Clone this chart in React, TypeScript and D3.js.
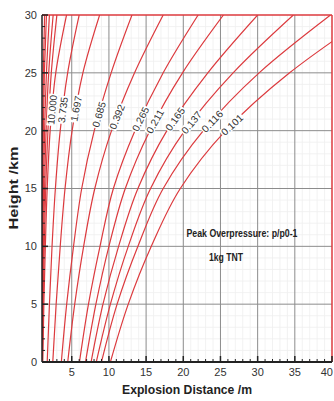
import React from 'react';
import * as d3 from 'd3';

const heights = [0, 5, 10, 15, 20, 25, 30];

// labelled contour levels, left to right
const levelLabels = ['10.000', '3.735', '1.697', '0.685', '0.392', '0.265', '0.211', '0.165', '0.137', '0.116', '0.101'];

// explosion distance (m) of each labelled contour at the heights above
const dist10000 = [1.1, 1.25, 1.45, 1.7, 2.1, 2.85, 4.3];
const dist3735 = [1.7, 2.0, 2.35, 2.8, 3.45, 4.45, 6.0];
const dist1697 = [2.45, 2.9, 3.45, 4.1, 5.05, 6.5, 8.75];
const dist0685 = [3.6, 4.32, 5.24, 6.34, 8.03, 10.3, 13.1];
const dist0392 = [4.46, 5.4, 6.6, 8.1, 10.35, 13.45, 17.3];
const dist0265 = [6.04, 7.25, 8.8, 10.6, 13.5, 17.3, 22.0];
const dist0211 = [6.85, 8.25, 10.0, 12.2, 15.5, 19.9, 25.4];
const dist0165 = [7.6, 9.2, 11.3, 13.9, 17.8, 23.3, 30.0];
const dist0137 = [8.3, 10.2, 12.6, 15.6, 20.2, 26.7, 34.8];
const dist0116 = [9.0, 11.1, 13.9, 17.3, 22.7, 30.2, 39.8];
const dist0101 = [10.2, 12.6, 15.7, 19.6, 25.7, 34.3, 45.2];

// unlabelled high-pressure contours hugging the left axis
const bandA = [1.06, 1.15, 1.3, 1.5, 1.8, 2.25, 3.0];
const bandB = [1.04, 1.1, 1.2, 1.35, 1.55, 1.9, 2.5];
const bandC = [1.02, 1.06, 1.12, 1.2, 1.35, 1.6, 2.0];
const bandD = [1.01, 1.03, 1.06, 1.1, 1.18, 1.32, 1.6];
const bandE = [1.0, 1.01, 1.03, 1.05, 1.09, 1.18, 1.35];

// height (km) where each label sits on its contour
const labelHeights = [21.8, 21.8, 21.9, 21.4, 21.2, 21.0, 20.8, 21.0, 20.7, 20.8, 20.5];

const xTicks = [5, 10, 15, 20, 25, 30, 35, 40];
const yTicks = [0, 5, 10, 15, 20, 25, 30];

const labelled = [dist10000, dist3735, dist1697, dist0685, dist0392, dist0265, dist0211, dist0165, dist0137, dist0116, dist0101];
const band = [bandA, bandB, bandC, bandD, bandE];

const W = 334;
const H = 401;
const RED = '#dc3a3e';

export default function App() {
  const x = d3.scaleLinear().domain([1, 40]).range([42, 332]);
  const y = d3.scaleLinear().domain([0, 30]).range([362, 15]);

  const line = d3.line<number[]>()
    .x(d => x(d[0]))
    .y(d => y(d[1]))
    .curve(d3.curveMonotoneY);

  const toPts = (dist: number[]) => dist.map((v, i) => [v, heights[i]]);

  const minorX = d3.range(2, 40, 1).filter(v => v % 5 !== 0);
  const minorY = d3.range(1, 30, 1).filter(v => v % 5 !== 0);
  const majorX = [5, 10, 15, 20, 25, 30, 35];
  const majorY = [5, 10, 15, 20, 25];

  const labels = labelled.map((dist, i) => {
    const at = d3.scaleLinear().domain(heights).range(dist);
    const h = labelHeights[i];
    const px = x(at(h));
    const py = y(h);
    const ang = Math.atan2(y(h + 0.6) - y(h - 0.6), x(at(h + 0.6)) - x(at(h - 0.6))) * 180 / Math.PI;
    return { px, py, ang, text: levelLabels[i] };
  });

  return (
    <svg width={W} height={H} style={{ position: 'absolute', left: 0, top: 0, background: '#fff' }}
      fontFamily="'Liberation Sans', Arial, sans-serif">
      <defs>
        <clipPath id="plot">
          <rect x={x(1)} y={y(30)} width={x(40) - x(1)} height={y(0) - y(30)} />
        </clipPath>
      </defs>

      {/* minor grid */}
      <g stroke="#efefef" strokeWidth={0.8}>
        {minorX.map(v => <line key={'mx' + v} x1={x(v)} x2={x(v)} y1={y(0)} y2={y(30)} />)}
        {minorY.map(v => <line key={'my' + v} x1={x(1)} x2={x(40)} y1={y(v)} y2={y(v)} />)}
      </g>
      {/* major grid */}
      <g stroke="#8c8c8c" strokeWidth={1}>
        {majorX.map(v => <line key={'gx' + v} x1={x(v)} x2={x(v)} y1={y(0)} y2={y(30)} />)}
        {majorY.map(v => <line key={'gy' + v} x1={x(1)} x2={x(40)} y1={y(v)} y2={y(v)} />)}
      </g>

      {/* contours */}
      <g clipPath="url(#plot)" fill="none" stroke={RED} strokeWidth={1.2}>
        {band.map((d, i) => <path key={'b' + i} d={line(toPts(d)) || ''} />)}
        {labelled.map((d, i) => <path key={'c' + i} d={line(toPts(d)) || ''} />)}
      </g>

      {/* contour labels */}
      {labels.map((l, i) => {
        const len = l.text.length === 6 ? 30 : 26;
        return (
          <g key={'l' + i} transform={`translate(${l.px},${l.py}) rotate(${l.ang})`}>
            <rect x={-len / 2 - 1} y={-4.5} width={len + 2} height={9} fill="#fff" />
            <text textAnchor="middle" dy="0.35em" fontSize={10} fill="#333"
              textLength={len} lengthAdjust="spacingAndGlyphs">{l.text}</text>
          </g>
        );
      })}

      {/* frame */}
      <line x1={x(1)} x2={x(40)} y1={y(30)} y2={y(30)} stroke={RED} strokeWidth={1.5} />
      <line x1={x(40)} x2={x(40)} y1={y(0)} y2={y(30)} stroke={RED} strokeWidth={1.5} />
      <line x1={x(1)} x2={x(1)} y1={y(0)} y2={y(30)} stroke="#222" strokeWidth={1.5} />
      <line x1={x(1)} x2={x(40)} y1={y(0)} y2={y(0)} stroke="#222" strokeWidth={2} />

      {/* ticks */}
      <g stroke="#222" strokeWidth={1}>
        {xTicks.map(v => <line key={'tx' + v} x1={x(v)} x2={x(v)} y1={y(0)} y2={y(0) - 6} strokeWidth={1.5} />)}
        {minorX.map(v => <line key={'tmx' + v} x1={x(v)} x2={x(v)} y1={y(0)} y2={y(0) - 3} />)}
        {yTicks.map(v => <line key={'ty' + v} x1={x(1)} x2={x(1) + 6} y1={y(v)} y2={y(v)} strokeWidth={1.5} />)}
        {minorY.map(v => <line key={'tmy' + v} x1={x(1)} x2={x(1) + 3} y1={y(v)} y2={y(v)} />)}
      </g>

      {/* tick labels */}
      <g fontSize={11} fill="#333">
        {xTicks.map(v => (
          <text key={'lx' + v} x={v === 40 ? W - 1 : x(v)} y={376} textAnchor={v === 40 ? 'end' : 'middle'}>{v}</text>
        ))}
        {yTicks.map(v => <text key={'ly' + v} x={37} y={y(v)} dy="0.35em" textAnchor="end">{v}</text>)}
      </g>

      {/* axis titles */}
      <text x={187} y={394} textAnchor="middle" fontSize={13} fontWeight="bold" fill="#222"
        textLength={130} lengthAdjust="spacingAndGlyphs">Explosion Distance /m</text>
      <text transform="translate(18,188) rotate(-90)" textAnchor="middle" fontSize={13} fontWeight="bold" fill="#222"
        textLength={83} lengthAdjust="spacingAndGlyphs">Height /km</text>

      {/* annotation */}
      <text x={242} y={237} textAnchor="middle" fontSize={10.5} fontWeight="bold" fill="#222"
        textLength={111} lengthAdjust="spacingAndGlyphs">Peak Overpressure: p/p0-1</text>
      <text x={226} y={261} textAnchor="middle" fontSize={10.5} fontWeight="bold" fill="#222"
        textLength={34} lengthAdjust="spacingAndGlyphs">1kg TNT</text>
    </svg>
  );
}
